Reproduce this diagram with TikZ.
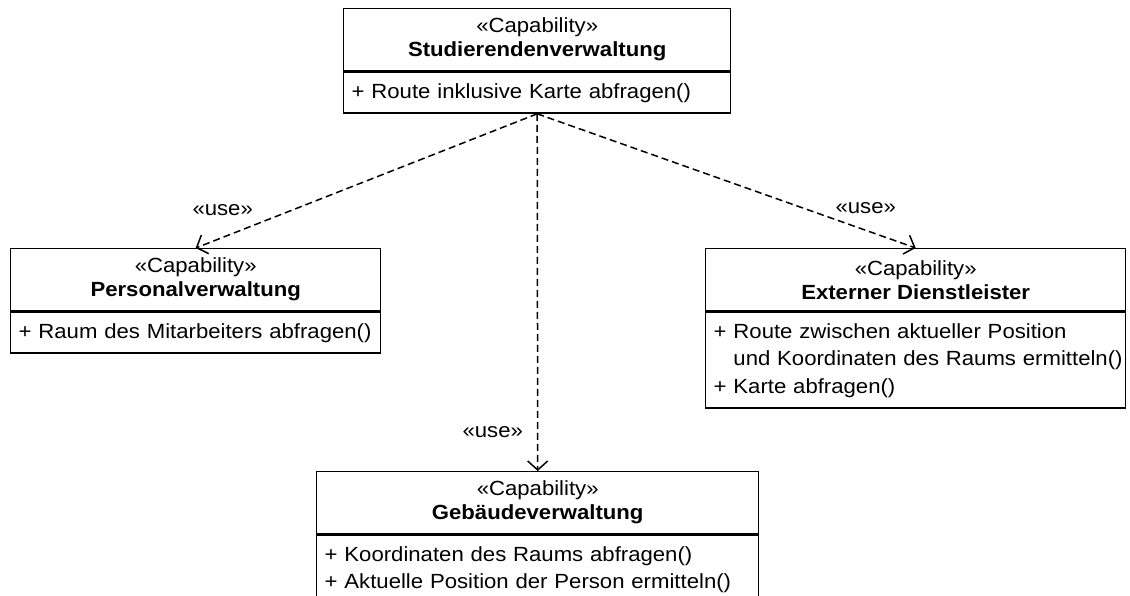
\documentclass[tikz,border=0pt]{standalone}
\usepackage{fontspec}
\setmainfont[FakeStretch=1.08]{Liberation Sans}
\usepackage{tikz}
\usetikzlibrary{positioning,arrows.meta}
\tikzset{
  capa/.style={draw, line width=1.4pt, fill=white, anchor=north west, align=center,
               inner sep=0pt, minimum width=#1, minimum height=62pt,
               font=\fontsize{20.5}{24}\selectfont},
  ops/.style={draw, line width=1.4pt, fill=white, anchor=north west, align=left,
              inner xsep=8pt, inner ysep=6.75pt, text width=#1,
              font=\fontsize{20.5}{27.5}\selectfont,
              execute at begin node=\strut, execute at end node=\strut},
  dep/.style={-{Straight Barb[length=9pt,width=20pt]}, line width=1.5pt,
              dash pattern=on 7pt off 4pt},
  use/.style={font=\fontsize{20.5}{24}\selectfont, inner sep=0pt}
}

\begin{document}
\begin{tikzpicture}[x=1pt, y=-1pt]
\useasboundingbox (0,0) rectangle (1130,595);
\node[capa=387pt] (stud) at (343,8) {«Capability»\\\textbf{Studierendenverwaltung}};
\node[ops=371pt] (studops) at (stud.south west) {\mbox{+ Route inklusive Karte abfragen()}};

\node[capa=370pt] (pers) at (10,248) {«Capability»\\\textbf{Personalverwaltung}};
\node[ops=354pt] (persops) at (pers.south west) {\mbox{+ Raum des Mitarbeiters abfragen()}};

\node[capa=420pt] (ext) at (705,248) {«Capability»\\\textbf{Externer Dienstleister}};
\node[ops=404pt] (extops) at (ext.south west) {\mbox{+ Route zwischen aktueller Position}\\
  \mbox{\hphantom{+}\ und Koordinaten des Raums ermitteln()}\\
  \mbox{+ Karte abfragen()}};

\node[capa=442pt] (geb) at (316,471) {«Capability»\\\textbf{Gebäudeverwaltung}};
\node[ops=426pt] (gebops) at (geb.south west) {\mbox{+ Koordinaten des Raums abfragen()}\\
  \mbox{+ Aktuelle Position der Person ermitteln()}};

% use dependencies
\draw[dep] (studops.south) -- node[use, pos=0.921, above=21pt] (use1) {«use»} (pers.north);
\draw[dep] (studops.south) -- node[use, pos=0.868, above=16pt] (use2) {«use»} (ext.north);
\draw[dep] (studops.south) -- node[use, pos=0.892, left=14pt] (use3) {«use»} (geb.north);
\end{tikzpicture}
\end{document}
